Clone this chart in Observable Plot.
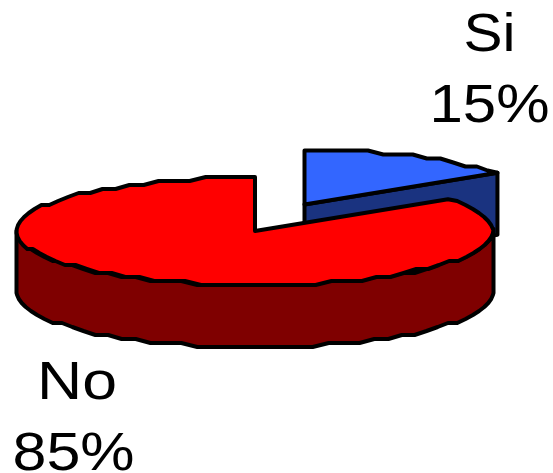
<!DOCTYPE html>
<html><head><meta charset="utf-8">
<script src="https://cdn.jsdelivr.net/npm/d3@7"></script>
<script src="https://cdn.jsdelivr.net/npm/@observablehq/plot@0.6"></script>
<style>html,body{margin:0;padding:0;background:#fff}svg{display:block}</style>
</head><body><div id="chart"></div>
<script>
const categories = ["Si", "No"];
const shares = [15, 85];
const labelRows = ["Si", "15%", "No", "85%"];

const W = 553, H = 473;
const rx = 238.5, ry = 54, depth = 62;
const siCenter = [304, 204], noCenter = [254.5, 230.5];
const siColors = ["#3366ff", "#1a3380"], noColors = ["#ff0000", "#7f0000"];

const rad = d => d * Math.PI / 180;
// the original is a coarse, rounded metafile: ellipse points snap to a grid
const snap = (v, g) => Math.round(v / g) * g;
function arc([cx, cy], a0, a1, dy = 0) {
  const n = Math.max(2, Math.ceil(Math.abs(a1 - a0) / 4)), pts = [];
  for (let i = 0; i <= n; i++) {
    const a = rad(a0 + (a1 - a0) * i / n);
    const edge = i === 0 || i === n;
    const x = cx + rx * Math.cos(a), off = ry * Math.sin(a);
    const sy = Math.sign(off) * (ry - snap(ry - Math.abs(off), 4));
    pts.push({x, y: (edge ? cy - off : cy - sy) + dy});
  }
  return pts;
}
// angles follow from the shares: clockwise from the top for Si, counter-clockwise for No
const total = d3.sum(shares);
const siEnd = 90 - 360 * shares[0] / total;
const noEnd = 90 + 360 * shares[1] / total;
const c = ([x, y], dy = 0) => ({x, y: y + dy});

const siTop = [c(siCenter), ...arc(siCenter, 90, siEnd), c(siCenter)];
const siEdge = {x: siCenter[0] + rx * Math.cos(rad(siEnd)), y: siCenter[1] - ry * Math.sin(rad(siEnd))};
const siWall = [c(siCenter), siEdge, {x: siEdge.x, y: siEdge.y + depth}, c(siCenter, depth), c(siCenter)];
const noTop = [c(noCenter), ...arc(noCenter, 90, noEnd), c(noCenter)];
const front = arc(noCenter, 180, 360);
const backSide = arc(noCenter, 360, 180, depth);
const noWall = [...front, ...backSide, front[0]];

const line = (d, fill) => Plot.line(d, {x: "x", y: "y", fill, stroke: "#000", strokeWidth: 4, strokeLinejoin: "round"});
const labels = [
  {t: labelRows[0], x: 489, y: 33, w: 52},
  {t: labelRows[1], x: 489, y: 104, w: 120},
  {t: labelRows[2], x: 76.5, y: 381, w: 80},
  {t: labelRows[3], x: 73, y: 452, w: 122}
];

const plot = Plot.plot({
  width: W, height: H, margin: 0,
  x: {domain: [0, W], axis: null},
  y: {domain: [H, 0], axis: null},
  marks: [
    line(siWall, siColors[1]),
    line(siTop, siColors[0]),
    line(noWall, noColors[1]),
    line(noTop, noColors[0]),
    Plot.text(labels, {x: "x", y: "y", text: "t", fontFamily: "Liberation Sans, Arial, sans-serif", fontSize: 54, fill: "#000", lineAnchor: "middle"})
  ]
});
// the reference's labels are stretched horizontally
const widths = new Map(labels.map(d => [d.t, d.w]));
plot.querySelectorAll("text").forEach(t => {
  const w = widths.get(t.textContent);
  if (w) { t.setAttribute("textLength", w); t.setAttribute("lengthAdjust", "spacingAndGlyphs"); }
});
document.getElementById("chart").append(plot);
</script></body></html>
